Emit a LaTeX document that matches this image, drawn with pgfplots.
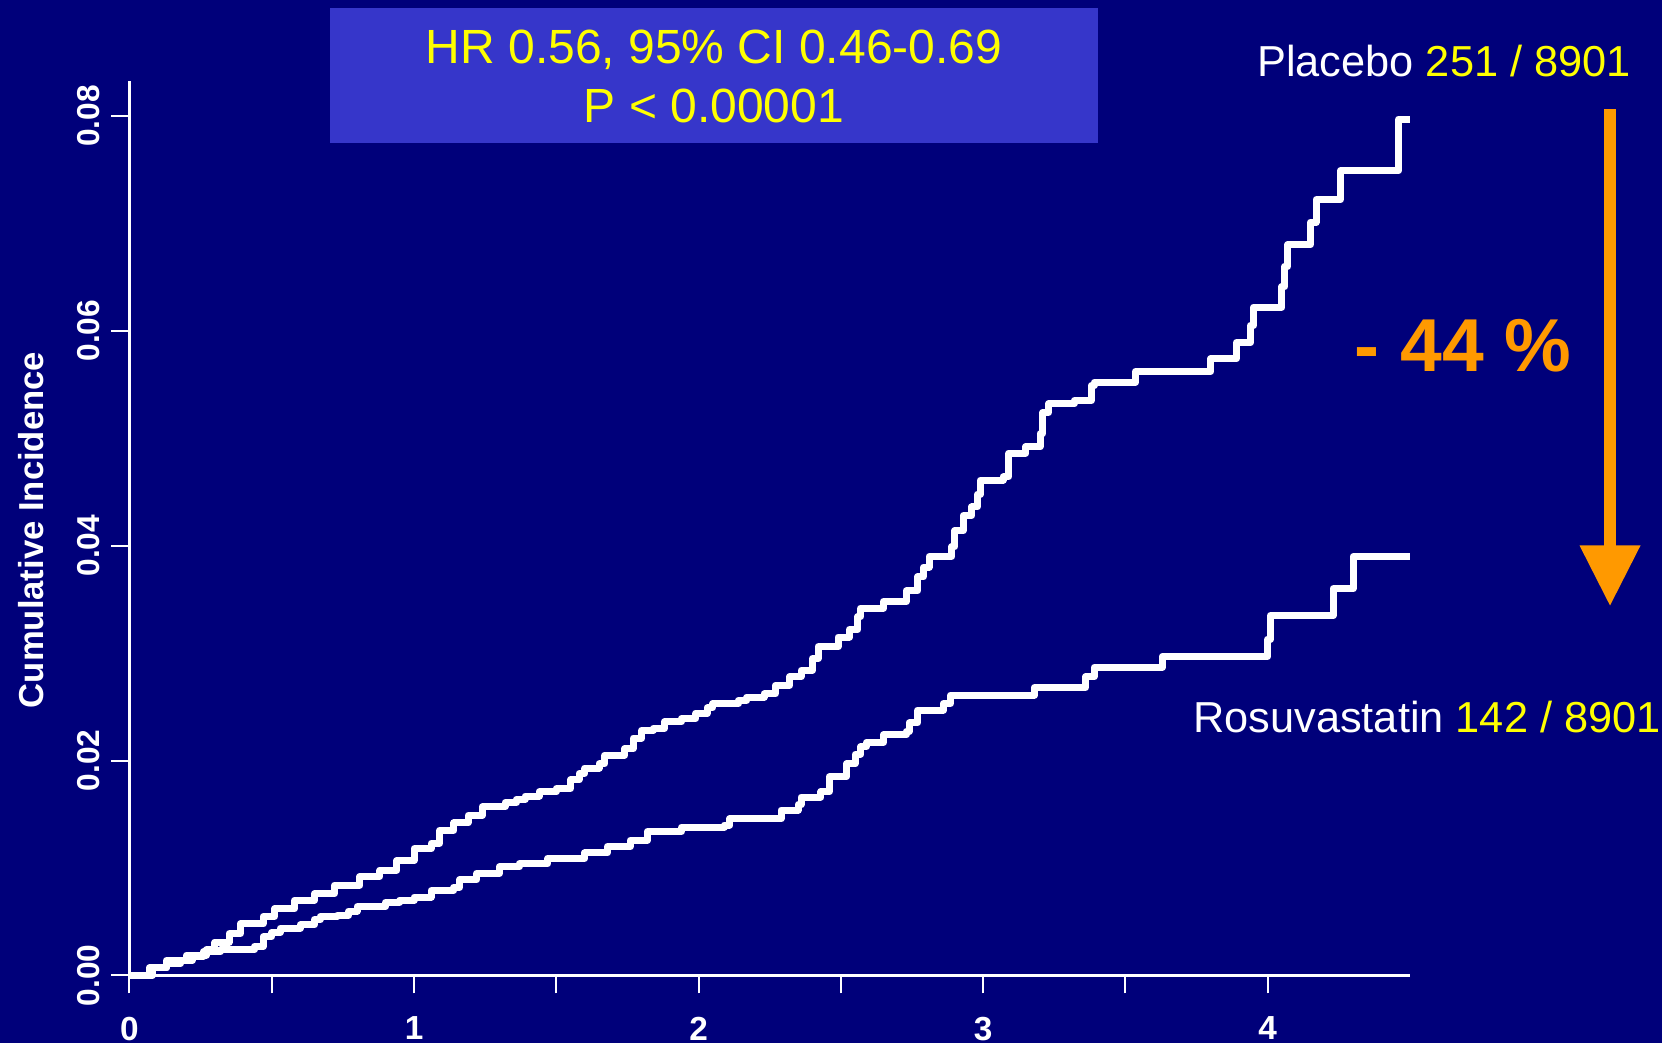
\documentclass[border=0pt]{standalone}
\usepackage{pgfplots}
\pgfplotsset{compat=1.18}
\usepackage{fontspec}
\setmainfont{Liberation Sans}
\definecolor{bgnavy}{RGB}{0,0,122}
\definecolor{boxblue}{RGB}{54,54,202}
\definecolor{ylw}{RGB}{255,255,0}
\definecolor{orng}{RGB}{255,153,0}

\pgfplotstableread{
x y
0 0
0.07 0.0007
0.13 0.0014
0.20 0.0019
0.27 0.0024
0.30 0.0031
0.35 0.0039
0.39 0.0048
0.47 0.0055
0.51 0.0062
0.58 0.0070
0.65 0.0076
0.72 0.0084
0.81 0.0092
0.88 0.0098
0.94 0.0107
1.00 0.0118
1.06 0.0123
1.09 0.0135
1.14 0.0142
1.19 0.0149
1.24 0.0157
1.32 0.0161
1.36 0.0164
1.39 0.0167
1.44 0.0171
1.50 0.0174
1.55 0.0182
1.58 0.0188
1.60 0.0193
1.65 0.0197
1.67 0.0205
1.74 0.0211
1.77 0.0221
1.80 0.0228
1.84 0.0230
1.88 0.0236
1.94 0.0239
1.99 0.0244
2.03 0.0249
2.05 0.0253
2.14 0.0256
2.17 0.0259
2.23 0.0262
2.27 0.0270
2.32 0.0278
2.36 0.0284
2.40 0.0295
2.42 0.0306
2.49 0.0315
2.53 0.0322
2.56 0.0334
2.57 0.0342
2.65 0.0348
2.73 0.0358
2.77 0.0371
2.79 0.0380
2.81 0.0390
2.89 0.0399
2.90 0.0414
2.93 0.0428
2.96 0.0436
2.98 0.0448
2.99 0.0461
3.07 0.0464
3.09 0.0486
3.15 0.0492
3.20 0.0504
3.21 0.0524
3.23 0.0532
3.32 0.0535
3.38 0.0549
3.39 0.0552
3.535 0.0562
3.80 0.0574
3.89 0.0589
3.94 0.0605
3.95 0.0622
4.05 0.0641
4.06 0.0660
4.07 0.0680
4.15 0.0701
4.17 0.0722
4.256 0.0749
4.46 0.0797
4.50 0.0797
}\placebo

\pgfplotstableread{
x y
0 0
0.08 0.0007
0.13 0.0011
0.18 0.0014
0.22 0.0018
0.26 0.0022
0.32 0.0024
0.44 0.0027
0.47 0.0036
0.50 0.0040
0.53 0.0044
0.60 0.0047
0.65 0.0052
0.67 0.0055
0.73 0.0056
0.77 0.0060
0.80 0.0064
0.90 0.0068
0.95 0.0070
1.00 0.0073
1.06 0.0079
1.14 0.0082
1.16 0.0089
1.22 0.0095
1.30 0.0101
1.37 0.0104
1.47 0.0109
1.60 0.0114
1.68 0.0120
1.76 0.0126
1.82 0.0134
1.94 0.0138
2.09 0.0140
2.11 0.0146
2.29 0.0154
2.35 0.0159
2.36 0.0166
2.43 0.0171
2.46 0.0185
2.52 0.0197
2.55 0.0206
2.57 0.0213
2.59 0.0217
2.65 0.0224
2.73 0.0227
2.74 0.0235
2.77 0.0247
2.86 0.0253
2.885 0.0261
3.18 0.0268
3.36 0.0278
3.39 0.0287
3.63 0.0297
4.00 0.0313
4.01 0.0335
4.23 0.0360
4.30 0.0390
4.50 0.0390
}\rosuva

\begin{document}
\begin{tikzpicture}[x=0.3pt,y=0.3pt]
\fill[bgnavy] (0,0) rectangle (1662,1043);
\fill[boxblue] (330,900) rectangle (1098,1034.5);
\node[ylw, font=\fontsize{14.4}{16}\selectfont] at (714,993) {HR 0.56, 95\% CI 0.46-0.69};
\node[ylw, font=\fontsize{14.4}{16}\selectfont] at (714,937) {P < 0.00001};

\begin{axis}[
  at={(38.85pt,20.25pt)}, anchor=south west,
  scale only axis, width=384.15pt, height=268.2pt,
  xmin=0, xmax=4.5, ymin=0, ymax=0.0832,
  axis x line*=bottom, axis y line*=left,
  axis line style={white, line width=0.8pt},
  xtick={0,1,2,3,4}, minor xtick={0.5,1.5,2.5,3.5},
  ytick={0,0.02,0.04,0.06,0.08},
  tick align=outside,
  major tick length=5.4pt, minor tick length=5.4pt,
  tick style={white, line width=0.6pt},
  scaled y ticks=false,
  /pgf/number format/assume math mode=true,
  ticklabel style={white, font=\bfseries\fontsize{9.5}{10}\selectfont},
  yticklabel={\pgfmathprintnumber[fixed,fixed zerofill,precision=2]{\tick}},
  yticklabel style={rotate=90, anchor=south, xshift=0pt},
  xticklabel style={font=\bfseries\fontsize{10}{11}\selectfont, yshift=-3.5pt},
  clip=false,
]
\addplot[const plot, white, line width=2.1pt, line join=round] table[x=x,y=y] {\placebo};
\addplot[const plot, white, line width=2.1pt, line join=round] table[x=x,y=y] {\rosuva};
\end{axis}

\node[rotate=90, white, font=\bfseries\fontsize{10.4}{12}\selectfont] at (31,513) {Cumulative Incidence};
\node[white, font=\fontsize{13}{15}\selectfont] at (1444,982) {Placebo \textcolor{ylw}{251 / 8901}};
\node[white, font=\fontsize{13}{15}\selectfont] at (1427,325.5) {Rosuvastatin \textcolor{ylw}{142 / 8901}};
\node[orng, font=\bfseries\fontsize{22.5}{24}\selectfont] at (1463,697.5) {- 44 \%};
\fill[orng] (1604,934) rectangle (1616,497);
\fill[orng] (1579.5,497.5) -- (1640.5,497.5) -- (1610,437.5) -- cycle;

\pgfresetboundingbox
\path (0,0) rectangle (1662,1043);
\end{tikzpicture}
\end{document}
